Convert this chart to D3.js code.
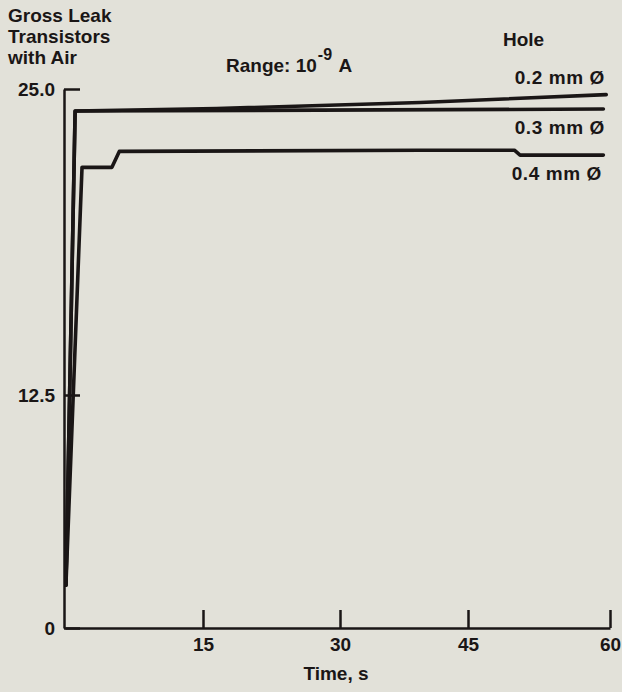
<!DOCTYPE html>
<html><head><meta charset="utf-8">
<script src="https://cdn.jsdelivr.net/npm/d3@7"></script>
<style>
html,body{margin:0;padding:0;background:#e2e1d9;}
svg{display:block;}
text{font-family:"Liberation Sans",Arial,sans-serif;font-weight:bold;fill:#1a1616;}
</style></head><body>
<svg id="chart" width="622" height="692"></svg>
<script>
// ---- data ----
const seriesNames = ["0.2 mm Ø", "0.3 mm Ø", "0.4 mm Ø"];
const time02  = [0.1, 1.1, 16.5, 39.4, 59.6];
const gross02 = [2.3, 24.1, 24.2, 24.45, 24.77];
const time03  = [0.1, 1.1, 59.3];
const gross03 = [2.3, 24.1, 24.18];
const time04  = [0.1, 1.85, 5.1, 5.9, 39.4, 49.9, 50.5, 59.3];
const gross04 = [2.3, 21.8, 21.8, 22.45, 22.5, 22.5, 22.3, 22.3];
const xTicks = [15, 30, 45, 60];
const xTickLabels = ["15", "30", "45", "60"];
const yTicks = [0, 12.5, 25];
const yTickLabels = ["0", "12.5", "25.0"];
const titleLines = ["Gross Leak", "Transistors", "with Air"];

const ink = "#1a1616";
const svg = d3.select("#chart");
svg.append("rect").attr("width", 622).attr("height", 692).attr("fill", "#e2e1d9");

// hand-drawn axes: piecewise-linear scales through the drawn tick marks
const x = d3.scaleLinear().domain([0, 15, 30, 45, 60]).range([65, 203, 340, 468, 610]);
const y = d3.scaleLinear().domain([0, 12.5, 25]).range([628, 395, 89]);

// y axis (ticks pointing right, inside)
const yAxis = d3.axisLeft(y).tickValues(yTicks)
  .tickFormat((d, i) => yTickLabels[i]).tickSize(-16).tickSizeOuter(0).tickPadding(9);
const gy = svg.append("g").attr("transform", "translate(64,0)").call(yAxis);
gy.select(".domain").attr("stroke", ink).attr("stroke-width", 2.5);
gy.selectAll(".tick line").attr("stroke", ink).attr("stroke-width", 2.5);
gy.selectAll(".tick text").attr("font-size", 19).attr("fill", ink)
  .style("font-family", '"Liberation Sans",Arial,sans-serif').style("font-weight", "bold");

// x axis (ticks pointing up)
const xAxis = d3.axisBottom(x).tickValues(xTicks)
  .tickFormat((d, i) => xTickLabels[i]).tickSize(-18).tickSizeOuter(0).tickPadding(10);
const gx = svg.append("g").attr("transform", "translate(0,628)").call(xAxis);
gx.select(".domain").attr("stroke", ink).attr("stroke-width", 2.5);
gx.selectAll(".tick line").attr("stroke", ink).attr("stroke-width", 2.5);
gx.selectAll(".tick text").attr("font-size", 19).attr("fill", ink)
  .style("font-family", '"Liberation Sans",Arial,sans-serif').style("font-weight", "bold");

// series
const series = [
  {name: seriesNames[2], t: time04, v: gross04},
  {name: seriesNames[1], t: time03, v: gross03},
  {name: seriesNames[0], t: time02, v: gross02}
];
const line = d3.line().x(d => x(d[0])).y(d => y(d[1]));
svg.selectAll("path.series").data(series).enter().append("path")
  .attr("class", "series")
  .attr("d", s => line(s.t.map((t, i) => [t, s.v[i]])))
  .attr("fill", "none").attr("stroke", ink).attr("stroke-width", 3.6)
  .attr("stroke-linejoin", "round").attr("stroke-linecap", "round");

// titles
svg.append("g").selectAll("text").data(titleLines).enter().append("text")
  .attr("x", 8).attr("y", (d, i) => 22 + i * 21).attr("font-size", 19).text(d => d);

const rng = svg.append("text").attr("x", 226).attr("y", 72).attr("font-size", 19);
rng.append("tspan").text("Range: 10");
rng.append("tspan").attr("dx", 1).attr("dy", -12).attr("font-size", 16).text("-9");
rng.append("tspan").attr("dx", 2).attr("dy", 12).text(" A");

svg.append("text").attr("x", 503).attr("y", 46).attr("font-size", 19).text("Hole");
const labelPos = [[605, 84], [605, 134], [602, 180]];
svg.append("g").selectAll("text").data(seriesNames).enter().append("text")
  .attr("x", (d, i) => labelPos[i][0]).attr("y", (d, i) => labelPos[i][1])
  .attr("text-anchor", "end").attr("letter-spacing", 0.6)
  .attr("font-size", 19).text(d => d);

svg.append("text").attr("x", 336).attr("y", 680).attr("text-anchor", "middle")
  .attr("font-size", 19).text("Time, s");
</script>
</body></html>
